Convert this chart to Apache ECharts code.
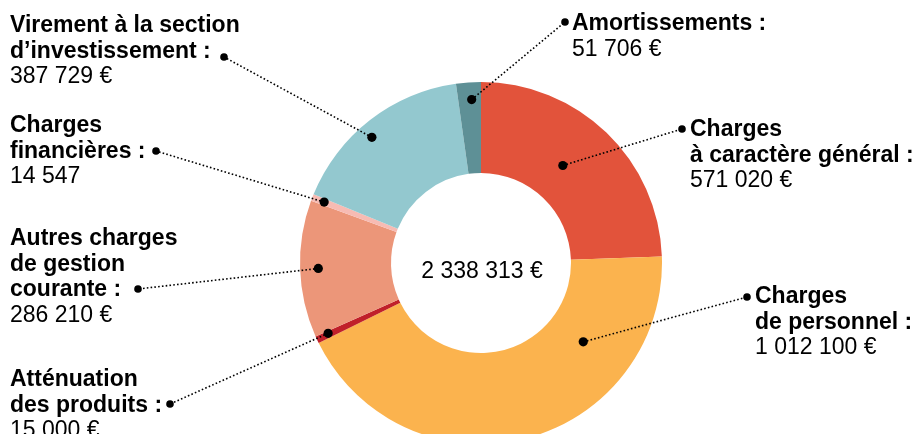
<!DOCTYPE html>
<html><head><meta charset="utf-8">
<script src="https://cdn.jsdelivr.net/npm/echarts@6/dist/echarts.min.js"></script>
<style>html,body{margin:0;padding:0;background:#fff}#c{width:920px;height:434px}</style>
</head><body><div id="c"></div>
<script>
// ---- data ----
const categories = ['Charges à caractère général', 'Charges de personnel', 'Atténuation des produits', 'Autres charges de gestion courante', 'Charges financières', 'Virement à la section d’investissement', 'Amortissements'];
const values = [571020, 1012100, 15000, 286210, 14547, 387729, 51706];
const nameLines = [['Charges', 'à caractère général :'], ['Charges', 'de personnel :'], ['Atténuation', 'des produits :'], ['Autres charges', 'de gestion', 'courante :'], ['Charges', 'financières :'], ['Virement à la section', 'd’investissement :'], ['Amortissements :']];
const valueLabels = ['571 020 €', '1 012 100 €', '15 000 €', '286 210 €', '14 547', '387 729 €', '51 706 €'];
const totalLabel = '2 338 313 €';

// ---- style / layout ----
const colors = ['#E2533B', '#FBB34E', '#C0202A', '#EC9679', '#F7BBB3', '#93C8CF', '#5E9096'];
const labelPos = [[690, 117], [755, 284], [10, 367], [10, 226], [10, 113], [10, 13], [572, 11]];
const labelDot = [[682, 129], [747, 297], [170, 404], [138, 289], [156, 151], [224, 57], [565, 22]];
const anchor = [[0.455, 0.41], [0.255, 0.43], [0.68, 0.86], [0.5, 0.8], [0.5, 0.86], [0.447, 0.84], [0.59, 0.81]];
const FONT = '"Liberation Sans", Arial, Helvetica, sans-serif';
const CX = 481, CY = 263, R0 = 90, R = 181;

const chart = echarts.init(document.getElementById('c'), null, {renderer: 'canvas'});
chart.setOption({
  animation: false,
  backgroundColor: '#fff',
  series: [{
    type: 'pie',
    center: [CX, CY],
    radius: [R0, R],
    startAngle: 90,
    clockwise: true,
    avoidLabelOverlap: false,
    silent: true,
    data: categories.map((c, i) => ({name: c, value: values[i], itemStyle: {color: colors[i]}})),
    labelLine: {show: false},
    label: {
      show: true,
      position: 'outside',
      formatter: p => nameLines[p.dataIndex].map(l => '{b|' + l + '}').join('\n') + '\n{v|' + valueLabels[p.dataIndex] + '}',
      rich: {
        b: {fontFamily: FONT, fontSize: 23, fontWeight: 'bold', color: '#000', lineHeight: 25.5},
        v: {fontFamily: FONT, fontSize: 23, fontWeight: 'normal', color: '#000', lineHeight: 25.5}
      }
    },
    labelLayout: p => ({x: labelPos[p.dataIndex][0], y: labelPos[p.dataIndex][1], align: 'left', verticalAlign: 'top'})
  }]
});

// leader lines from slice geometry computed by the library
const graphics = [];
let sData = null;
try { sData = chart.getModel().getSeriesByIndex(0).getData(); } catch (e) {}
const total = values.reduce((a, b) => a + b, 0);
let acc = 0;
values.forEach((v, i) => {
  let L = sData ? sData.getItemLayout(i) : null;
  if (!L || L.startAngle == null) {
    const s = -Math.PI / 2 + acc / total * Math.PI * 2;
    L = {cx: CX, cy: CY, r0: R0, r: R, startAngle: s, endAngle: s + v / total * Math.PI * 2};
  }
  acc += v;
  const a = L.startAngle + (L.endAngle - L.startAngle) * anchor[i][0];
  const r = L.r0 + (L.r - L.r0) * anchor[i][1];
  const x1 = L.cx + r * Math.cos(a), y1 = L.cy + r * Math.sin(a);
  const [x2, y2] = labelDot[i];
  graphics.push({type: 'line', z: 100, shape: {x1, y1, x2, y2}, style: {stroke: '#000', lineWidth: 1.6, lineDash: [1.6, 2.2]}});
  graphics.push({type: 'circle', z: 101, shape: {cx: x1, cy: y1, r: 4.6}, style: {fill: '#000'}});
  graphics.push({type: 'circle', z: 101, shape: {cx: x2, cy: y2, r: 3.8}, style: {fill: '#000'}});
});
graphics.push({type: 'text', z: 100, x: 482, y: 272, style: {text: totalLabel, font: '23px ' + FONT, fill: '#000', align: 'center', verticalAlign: 'middle', textAlign: 'center', textVerticalAlign: 'middle'}});
chart.setOption({graphic: graphics});
</script>
</body></html>
